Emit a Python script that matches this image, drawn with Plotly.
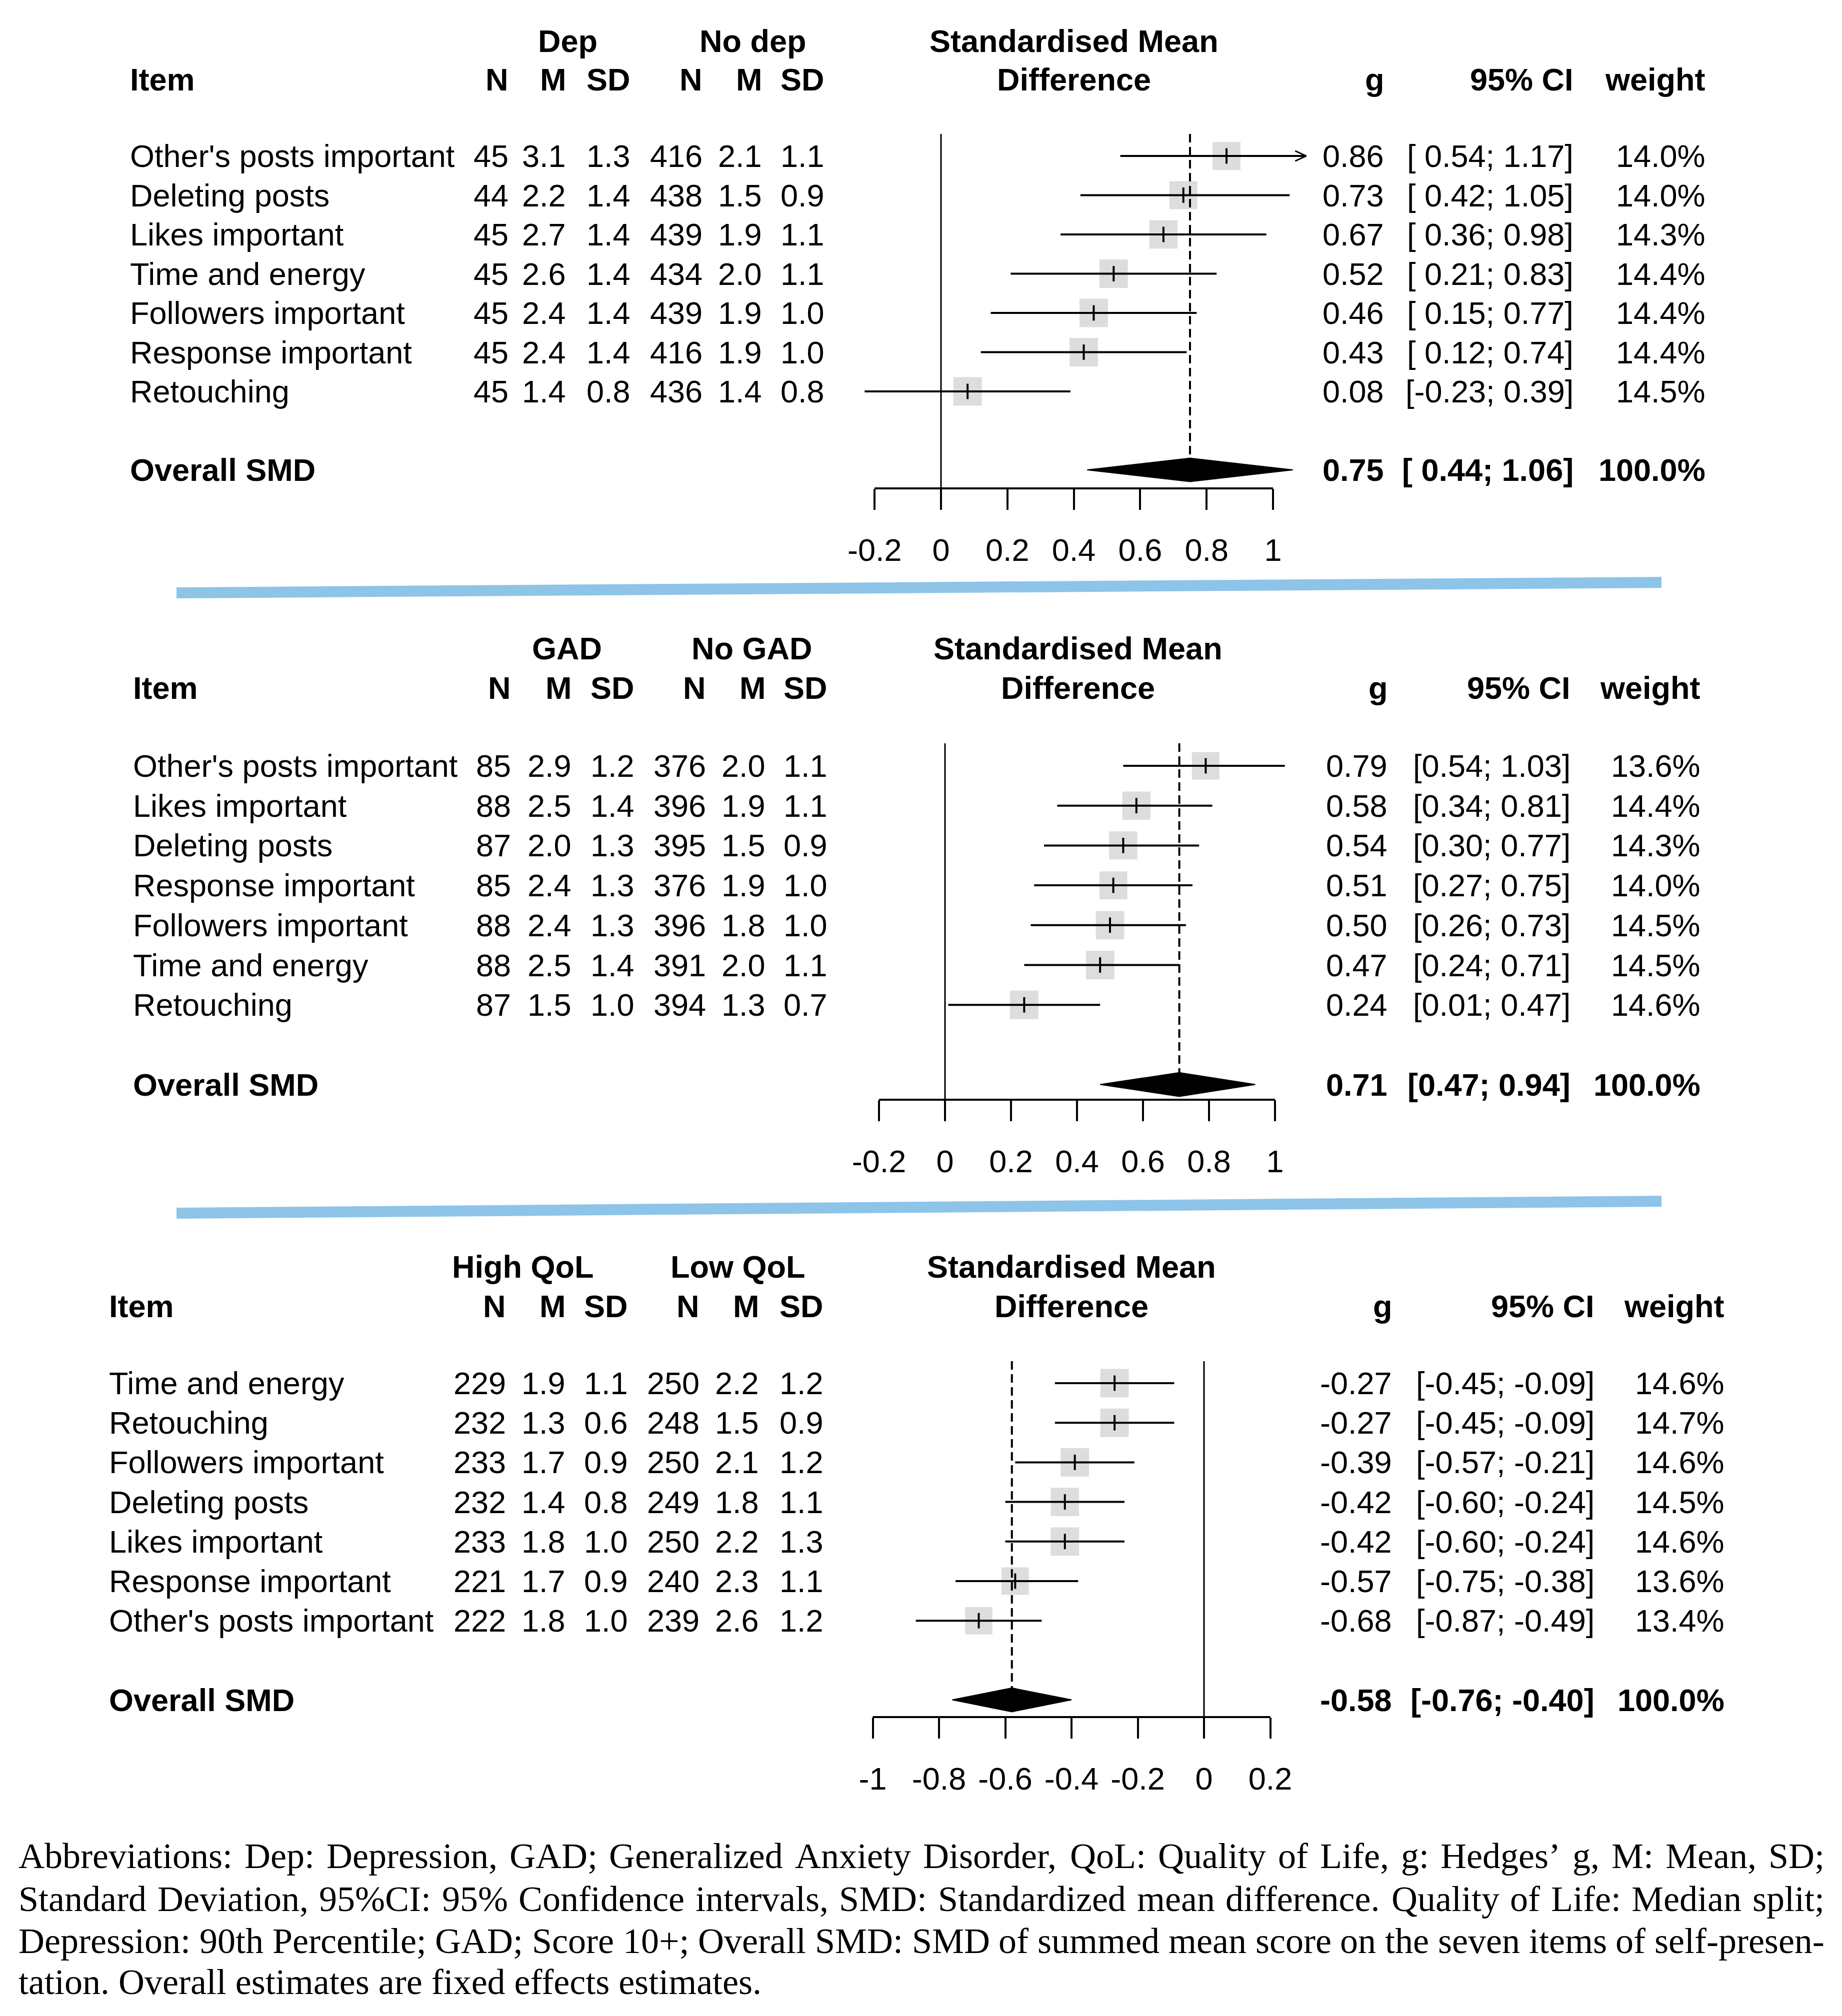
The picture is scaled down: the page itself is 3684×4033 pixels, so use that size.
import plotly.graph_objects as go

W, H = 3684, 4033          # screen size
OFF = 8                    # default body margin of the html page
FW, FH = W - 2 * OFF, H - 2 * OFF

# ---------------- data ----------------
items1 = ["Other's posts important", "Deleting posts", "Likes important", "Time and energy",
          "Followers important", "Response important", "Retouching"]
n1_a = [45, 44, 45, 45, 45, 45, 45]
m1_a = [3.1, 2.2, 2.7, 2.6, 2.4, 2.4, 1.4]
sd1_a = [1.3, 1.4, 1.4, 1.4, 1.4, 1.4, 0.8]
n1_b = [416, 438, 439, 434, 439, 416, 436]
m1_b = [2.1, 1.5, 1.9, 2.0, 1.9, 1.9, 1.4]
sd1_b = [1.1, 0.9, 1.1, 1.1, 1.0, 1.0, 0.8]
g1 = [0.86, 0.73, 0.67, 0.52, 0.46, 0.43, 0.08]
lo1 = [0.54, 0.42, 0.36, 0.21, 0.15, 0.12, -0.23]
hi1 = [1.17, 1.05, 0.98, 0.83, 0.77, 0.74, 0.39]
w1 = [14.0, 14.0, 14.3, 14.4, 14.4, 14.4, 14.5]
overall1 = [0.75, 0.44, 1.06]
groups1 = ["Dep", "No dep"]
ticks1 = [-0.2, 0, 0.2, 0.4, 0.6, 0.8, 1]

items2 = ["Other's posts important", "Likes important", "Deleting posts", "Response important",
          "Followers important", "Time and energy", "Retouching"]
n2_a = [85, 88, 87, 85, 88, 88, 87]
m2_a = [2.9, 2.5, 2.0, 2.4, 2.4, 2.5, 1.5]
sd2_a = [1.2, 1.4, 1.3, 1.3, 1.3, 1.4, 1.0]
n2_b = [376, 396, 395, 376, 396, 391, 394]
m2_b = [2.0, 1.9, 1.5, 1.9, 1.8, 2.0, 1.3]
sd2_b = [1.1, 1.1, 0.9, 1.0, 1.0, 1.1, 0.7]
g2 = [0.79, 0.58, 0.54, 0.51, 0.50, 0.47, 0.24]
lo2 = [0.54, 0.34, 0.30, 0.27, 0.26, 0.24, 0.01]
hi2 = [1.03, 0.81, 0.77, 0.75, 0.73, 0.71, 0.47]
w2 = [13.6, 14.4, 14.3, 14.0, 14.5, 14.5, 14.6]
overall2 = [0.71, 0.47, 0.94]
groups2 = ["GAD", "No GAD"]
ticks2 = [-0.2, 0, 0.2, 0.4, 0.6, 0.8, 1]

items3 = ["Time and energy", "Retouching", "Followers important", "Deleting posts",
          "Likes important", "Response important", "Other's posts important"]
n3_a = [229, 232, 233, 232, 233, 221, 222]
m3_a = [1.9, 1.3, 1.7, 1.4, 1.8, 1.7, 1.8]
sd3_a = [1.1, 0.6, 0.9, 0.8, 1.0, 0.9, 1.0]
n3_b = [250, 248, 250, 249, 250, 240, 239]
m3_b = [2.2, 1.5, 2.1, 1.8, 2.2, 2.3, 2.6]
sd3_b = [1.2, 0.9, 1.2, 1.1, 1.3, 1.1, 1.2]
g3 = [-0.27, -0.27, -0.39, -0.42, -0.42, -0.57, -0.68]
lo3 = [-0.45, -0.45, -0.57, -0.60, -0.60, -0.75, -0.87]
hi3 = [-0.09, -0.09, -0.21, -0.24, -0.24, -0.38, -0.49]
w3 = [14.6, 14.7, 14.6, 14.5, 14.6, 13.6, 13.4]
overall3 = [-0.58, -0.76, -0.40]
groups3 = ["High QoL", "Low QoL"]
ticks3 = [-1, -0.8, -0.6, -0.4, -0.2, 0, 0.2]

stat_headers = ["N", "M", "SD", "N", "M", "SD"]
caption_lines = [
    "Abbreviations: Dep: Depression, GAD; Generalized Anxiety Disorder, QoL: Quality of Life, g: Hedges\u2019 g, M: Mean, SD;",
    "Standard Deviation, 95%CI: 95% Confidence intervals, SMD: Standardized mean difference. Quality of Life: Median split;",
    "Depression: 90th Percentile; GAD; Score 10+; Overall SMD: SMD of summed mean score on the seven items of self-presen-",
    "tation. Overall estimates are fixed effects estimates.",
]

# ---------------- geometry / style ----------------
FONT = "Liberation Sans, Arial, sans-serif"
SERIF = "Liberation Serif, Times New Roman, serif"
FS = 63
CAP_FS = 72
SQ = "#cfcfcf"
BLUE = "#8dc4e8"

panels = [
    dict(items=items1, cols=[n1_a, m1_a, sd1_a, n1_b, m1_b, sd1_b], g=g1, lo=lo1, hi=hi1, w=w1,
         ov=overall1, groups=groups1, ticks=ticks1, cifmt="[{:5.2f}; {:.2f}]",
         zero=1882, unit=664, dom=(1650, 2650), xclip=1.10,
         row0=312, sp=78.5, top=268, axis=977, item_x=259,
         col_r=[1018, 1133, 1262, 1406, 1525, 1650], grp_c=[1135, 1506],
         y_grp=82, y_head=159, g_r=2769, ci_r=3148, w_r=3412, smd_c=2148),
    dict(items=items2, cols=[n2_a, m2_a, sd2_a, n2_b, m2_b, sd2_b], g=g2, lo=lo2, hi=hi2, w=w2,
         ov=overall2, groups=groups2, ticks=ticks2, cifmt="[{:.2f}; {:.2f}]",
         zero=1890, unit=660, dom=(1650, 2650), xclip=1.10,
         row0=1532, sp=79.7, top=1487, axis=2200, item_x=265,
         col_r=[1023, 1144, 1270, 1413, 1532, 1656], grp_c=[1134, 1503],
         y_grp=1297, y_head=1376, g_r=2776, ci_r=3142, w_r=3402, smd_c=2156),
    dict(items=items3, cols=[n3_a, m3_a, sd3_a, n3_b, m3_b, sd3_b], g=g3, lo=lo3, hi=hi3, w=w3,
         ov=overall3, groups=groups3, ticks=ticks3, cifmt="[{:.2f}; {:.2f}]",
         zero=2408, unit=662.5, dom=(1650, 2650), xclip=1.10,
         row0=2767, sp=79.2, top=2723, axis=3435, item_x=217,
         col_r=[1013, 1132, 1257, 1400, 1519, 1648], grp_c=[1045, 1475],
         y_grp=2534, y_head=2613, g_r=2785, ci_r=3190, w_r=3450, smd_c=2143),
]

# Times/Liberation Serif advance widths (per 1000 em) used to justify the caption
TIMES = dict(zip("abcdefghijklmnopqrstuvwxyz",
                 [444, 500, 444, 500, 444, 333, 500, 500, 278, 278, 500, 278, 778,
                  500, 500, 500, 500, 333, 389, 278, 500, 500, 722, 500, 500, 444]))
TIMES.update(dict(zip("ABCDEFGHIJKLMNOPQRSTUVWXYZ",
                      [722, 667, 667, 722, 611, 556, 722, 722, 333, 389, 722, 611, 889,
                       722, 722, 556, 722, 667, 556, 611, 722, 722, 944, 722, 722, 611])))
TIMES.update({c: 500 for c in "0123456789"})
TIMES.update({" ": 250, ":": 278, ";": 278, ",": 250, ".": 250, "%": 833, "+": 564,
              "-": 333, "\u2019": 333, "'": 180})

fig = go.Figure()
annotations = []
shapes = []
layout = {}


def px(x):
    return (x - OFF) / FW


def py(y):
    return 1 - (y - OFF) / FH


def ann(text, x, y, yref="paper", xanchor="left", bold=False, size=FS, family=FONT):
    if bold:
        text = "<b>" + text + "</b>"
    annotations.append(dict(text=text, x=px(x), y=y, xref="paper", yref=yref,
                            xanchor=xanchor, yanchor="middle", showarrow=False, borderpad=0,
                            font=dict(family=family, size=size, color="black")))


OV_ROW = 8
DH = 0.30

for k, p in enumerate(panels, start=1):
    xa = "x" if k == 1 else f"x{k}"
    ya = "y" if k == 1 else f"y{k}"
    xname = "xaxis" if k == 1 else f"xaxis{k}"
    yname = "yaxis" if k == 1 else f"yaxis{k}"
    rows = list(range(len(p["items"])))
    x0v = (p["dom"][0] - p["zero"]) / p["unit"]
    x1v = (p["dom"][1] - p["zero"]) / p["unit"]
    ybot = (p["axis"] - p["row0"]) / p["sp"]
    ytop = (p["top"] - p["row0"]) / p["sp"]

    layout[xname] = dict(domain=[px(p["dom"][0]), px(p["dom"][1])], range=[x0v, x1v], anchor=ya,
                         showgrid=False, zeroline=False, showline=False, ticks="outside",
                         ticklen=42, tickwidth=4, tickcolor="black", tickvals=p["ticks"],
                         ticktext=["{:g}".format(t) for t in p["ticks"]],
                         tickfont=dict(family=FONT, size=FS, color="black"),
                         ticklabelstandoff=26, fixedrange=True)
    layout[yname] = dict(domain=[py(p["axis"]), py(p["top"])], range=[ybot, ytop], anchor=xa,
                         visible=False, fixedrange=True)

    # squares (size by weight)
    maxw = max(p["w"])
    fig.add_trace(go.Scatter(x=p["g"], y=rows, mode="markers", xaxis=xa, yaxis=ya,
                             marker=dict(symbol="square", color=SQ,
                                         size=[57 * (wi / maxw) ** 0.5 for wi in p["w"]],
                                         line=dict(width=0)),
                             cliponaxis=False, showlegend=False, hoverinfo="skip"))
    # CI lines
    cx, cy = [], []
    for r, lo, hi in zip(rows, p["lo"], p["hi"]):
        cx += [lo, min(hi, p["xclip"]), None]
        cy += [r, r, None]
    fig.add_trace(go.Scatter(x=cx, y=cy, mode="lines", xaxis=xa, yaxis=ya,
                             line=dict(color="black", width=4), showlegend=False, hoverinfo="skip"))
    # arrows for clipped CIs
    for r, hi in zip(rows, p["hi"]):
        if hi > p["xclip"]:
            ah = 22 / p["unit"]
            fig.add_trace(go.Scatter(x=[p["xclip"] - ah, p["xclip"], p["xclip"] - ah],
                                     y=[r - 0.13, r, r + 0.13], mode="lines", xaxis=xa, yaxis=ya,
                                     line=dict(color="black", width=3), showlegend=False,
                                     hoverinfo="skip"))
    # point estimate ticks
    fig.add_trace(go.Scatter(x=p["g"], y=rows, mode="markers", xaxis=xa, yaxis=ya,
                             marker=dict(symbol="line-ns", size=22, line=dict(width=4, color="black")),
                             showlegend=False, hoverinfo="skip"))
    # diamond
    est, lo, hi = p["ov"]
    fig.add_trace(go.Scatter(x=[lo, est, hi, est, lo], y=[OV_ROW, OV_ROW - DH, OV_ROW, OV_ROW + DH, OV_ROW],
                             mode="lines", fill="toself", fillcolor="black", xaxis=xa, yaxis=ya,
                             line=dict(color="black", width=2), showlegend=False, hoverinfo="skip"))
    # reference lines + axis line
    shapes.append(dict(type="line", xref=xa, yref=f"{ya} domain", x0=0, x1=0, y0=0, y1=1,
                       line=dict(color="black", width=3)))
    shapes.append(dict(type="line", xref=xa, yref=ya, x0=est, x1=est, y0=ytop, y1=OV_ROW - DH,
                       line=dict(color="black", width=4, dash="17px,9px")))
    shapes.append(dict(type="line", xref=xa, yref=f"{ya} domain", x0=p["ticks"][0], x1=p["ticks"][-1],
                       y0=0, y1=0, line=dict(color="black", width=4)))

    # headers
    ann("Item", p["item_x"], py(p["y_head"]), bold=True)
    ann(p["groups"][0], p["grp_c"][0], py(p["y_grp"]), xanchor="center", bold=True)
    ann(p["groups"][1], p["grp_c"][1], py(p["y_grp"]), xanchor="center", bold=True)
    for h, xr in zip(stat_headers, p["col_r"]):
        ann(h, xr, py(p["y_head"]), xanchor="right", bold=True)
    ann("Standardised Mean", p["smd_c"], py(p["y_grp"]), xanchor="center", bold=True)
    ann("Difference", p["smd_c"], py(p["y_head"]), xanchor="center", bold=True)
    ann("g", p["g_r"], py(p["y_head"]), xanchor="right", bold=True)
    ann("95% CI", p["ci_r"], py(p["y_head"]), xanchor="right", bold=True)
    ann("weight", p["w_r"], py(p["y_head"]), xanchor="right", bold=True)

    # rows
    for r in rows:
        ann(p["items"][r], p["item_x"], r, yref=ya)
        for ci, (col, xr) in enumerate(zip(p["cols"], p["col_r"])):
            v = col[r]
            txt = str(v) if ci in (0, 3) else "{:.1f}".format(v)
            ann(txt, xr, r, yref=ya, xanchor="right")
        ann("{:.2f}".format(p["g"][r]), p["g_r"], r, yref=ya, xanchor="right")
        ann(p["cifmt"].format(p["lo"][r], p["hi"][r]), p["ci_r"], r, yref=ya, xanchor="right")
        ann("{:.1f}%".format(p["w"][r]), p["w_r"], r, yref=ya, xanchor="right")
    # overall row
    ann("Overall SMD", p["item_x"], OV_ROW, yref=ya, bold=True)
    ann("{:.2f}".format(est), p["g_r"], OV_ROW, yref=ya, xanchor="right", bold=True)
    ann(p["cifmt"].format(lo, hi), p["ci_r"], OV_ROW, yref=ya, xanchor="right", bold=True)
    ann("{:.1f}%".format(sum(p["w"]) / sum(p["w"]) * 100), p["w_r"], OV_ROW, yref=ya,
        xanchor="right", bold=True)

# blue separators (slightly slanted as in the original)
shapes.append(dict(type="line", xref="paper", yref="paper", x0=px(353), x1=px(3323),
                   y0=py(1186), y1=py(1165), line=dict(color=BLUE, width=22)))
shapes.append(dict(type="line", xref="paper", yref="paper", x0=px(353), x1=px(3323),
                   y0=py(2427), y1=py(2403), line=dict(color=BLUE, width=22)))


# caption: fully justified lines (last line left aligned)
def text_w(s, size):
    return sum(TIMES.get(c, 500) for c in s) / 1000 * size


CAP_L, CAP_R = 36, 3648
for i, (line, yc) in enumerate(zip(caption_lines, [3713, 3799, 3883, 3965])):
    if i == len(caption_lines) - 1:
        ann(line, CAP_L, py(yc), family=SERIF, size=CAP_FS)
        continue
    words = line.split(" ")
    widths = [text_w(wd, CAP_FS) for wd in words]
    gap = (CAP_R - CAP_L - sum(widths)) / (len(words) - 1)
    x = CAP_L
    for wd, wdw in zip(words, widths):
        ann(wd, x, py(yc), family=SERIF, size=CAP_FS)
        x += wdw + gap

layout.update(dict(width=FW, height=FH, margin=dict(l=0, r=0, t=0, b=0),
                   paper_bgcolor="white", plot_bgcolor="white",
                   annotations=annotations, shapes=shapes, showlegend=False))
fig.update_layout(**layout)
fig.write_html("out.html")
